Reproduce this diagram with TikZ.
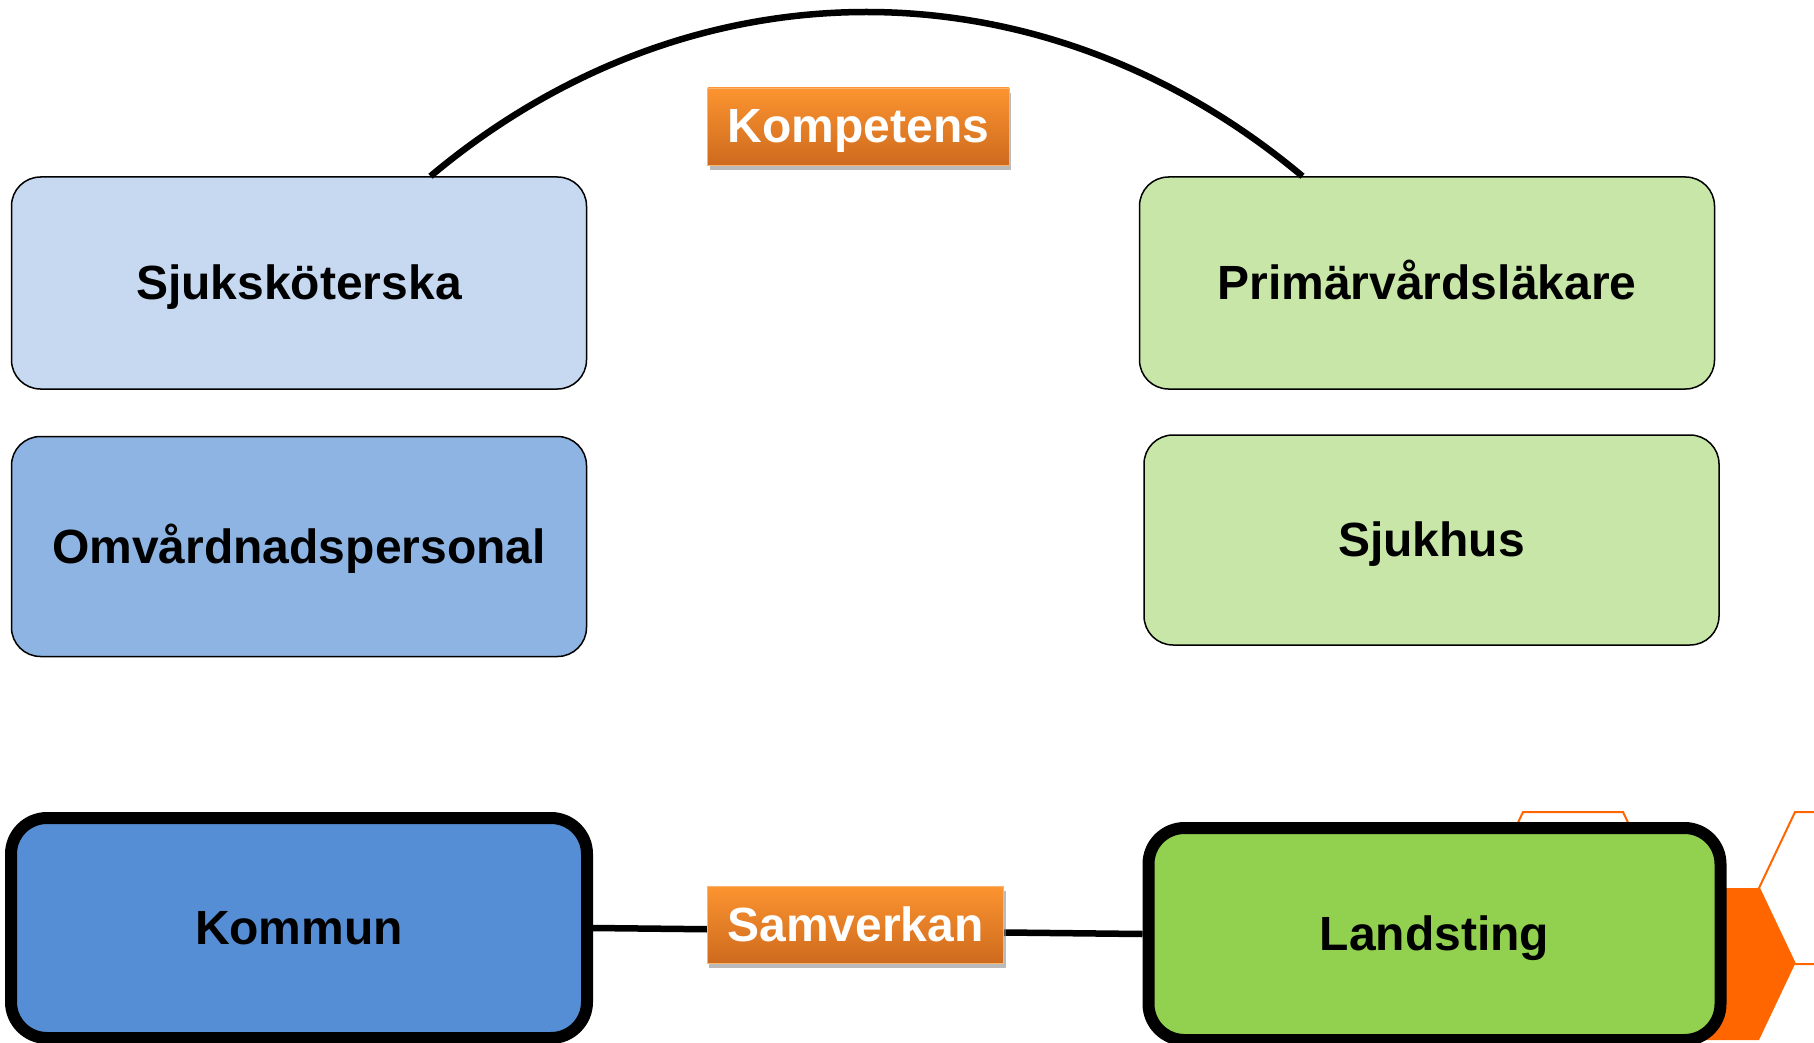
\documentclass[tikz,border=0pt]{standalone}
\usepackage{fontspec}
\setmainfont{Liberation Sans}
\usetikzlibrary{positioning,calc,shadows}
\definecolor{lightblue}{RGB}{198,217,241}
\definecolor{midblue}{RGB}{142,180,227}
\definecolor{darkblue}{RGB}{85,142,213}
\definecolor{lightgreen}{RGB}{200,230,167}
\definecolor{darkgreen}{RGB}{146,208,80}
\definecolor{hexorange}{RGB}{255,102,0}
\definecolor{tagtop}{RGB}{252,148,48}
\definecolor{tagbot}{RGB}{206,106,30}

\begin{document}
\begin{tikzpicture}[x=1pt,y=-1pt,
  font=\fontsize{48}{56}\selectfont\bfseries,
  every node/.style={text height=43pt,text depth=10pt},
  role/.style={draw,line width=1.5pt,rounded corners=29pt,
    minimum width=575pt,minimum height=212pt,inner sep=0pt},
  org/.style={draw,line width=12pt,rounded corners=36pt,
    minimum width=576pt,minimum height=220pt,inner sep=0pt},
  tag/.style={top color=tagtop,bottom color=tagbot,draw=tagtop!70!white,line width=.8pt,
    text=white,minimum height=77pt,inner xsep=20pt,inner ysep=0pt,
    drop shadow={shadow xshift=2pt,shadow yshift=-5pt,fill=black!45,opacity=.6}},
  hexa/.style={draw=hexorange,line width=2pt}]

  \useasboundingbox (0,0) rectangle (1814,1043);

  % honeycomb behind landsting
  \begin{scope}
    \clip (0,0) rectangle (1814,1043);
    \fill[hexorange,shift={(1709,964)}] (-50,-76) -- (50,-76) -- (86,0) -- (50,76) -- (-50,76) -- (-86,0) -- cycle;
    \foreach \cx/\cy in {1573/888,1845/888}
      \draw[hexa,shift={(\cx,\cy)}] (-50,-76) -- (50,-76) -- (86,0) -- (50,76) -- (-50,76) -- (-86,0) -- cycle;
  \end{scope}

  \node[org,fill=darkblue] (kommun) at (299,928) {Kommun};
  \node[org,fill=darkgreen,minimum width=572pt,minimum height=212pt] (landsting) at (1434.5,934) {Landsting};

  \draw[line width=6.5pt] (kommun.east) -- (landsting.west);
  \node[tag] (samverkan) at (855.5,924.5) {Samverkan};

  \node[role,fill=lightblue] (sjuk) at (299,283) {Sjuksköterska};
  \node[role,fill=midblue,minimum height=220pt,below=46pt of sjuk] (omv) {Omvårdnadspersonal};
  \node[role,fill=lightgreen] (prim) at (1427,283) {Primärvårdsläkare};
  \node[role,fill=lightgreen,minimum height=210pt] (sjukhus) at (1431.5,540) {Sjukhus};

  \node[tag] (kompetens) at (858.5,126.5) {Kompetens};

  % arc over the top
  \draw[line width=6.5pt] ($(sjuk.north west)!.728!(sjuk.north east)$)
    .. controls +(261,-219) and +(-261,-219) .. ($(prim.north west)!.284!(prim.north east)$);

\end{tikzpicture}
\end{document}
